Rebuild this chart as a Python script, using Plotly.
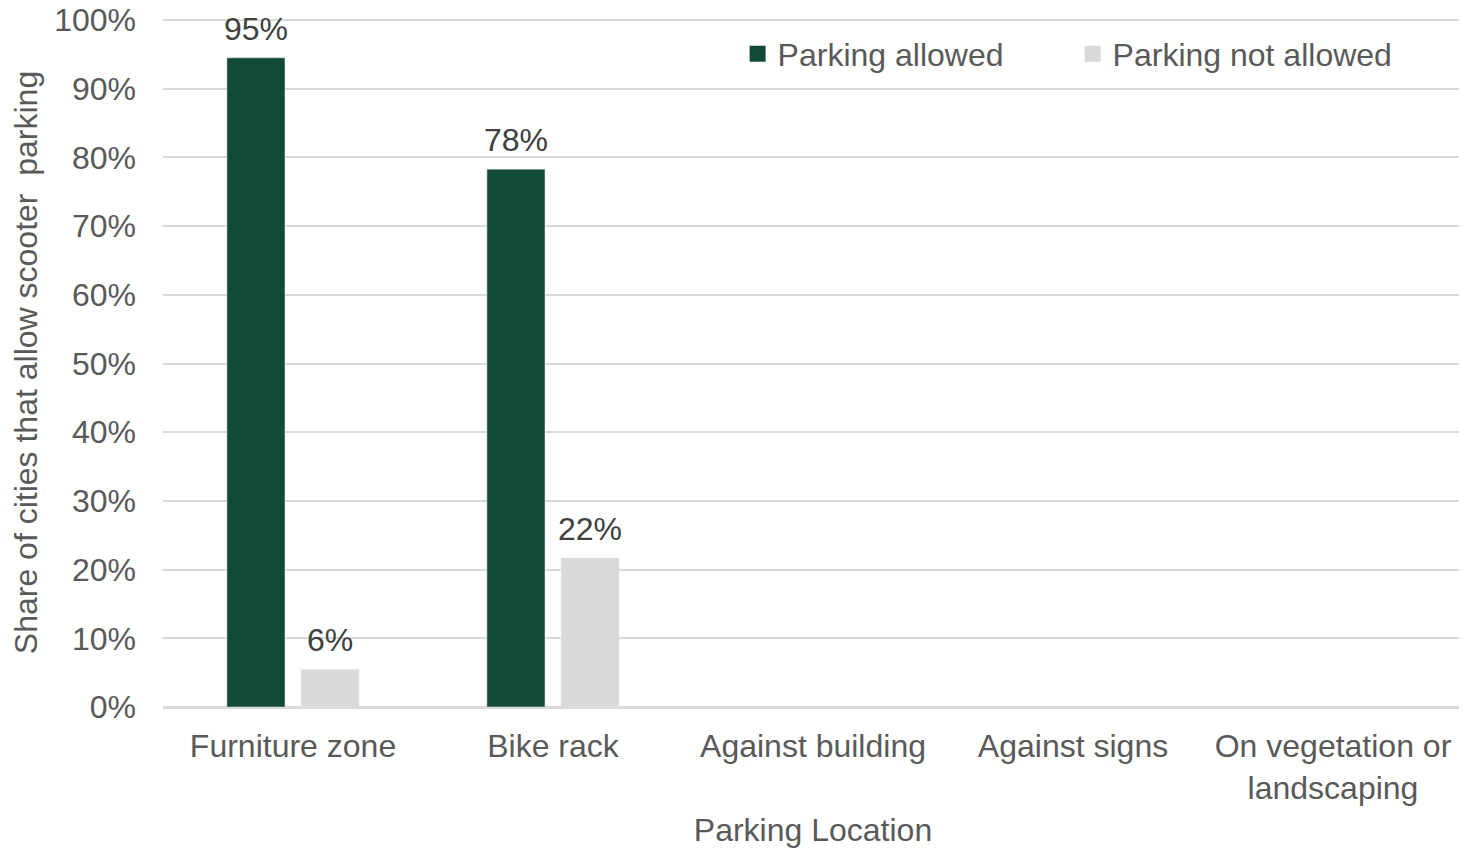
import plotly.graph_objects as go

locations = ["Furniture zone", "Bike rack", "Against building", "Against signs",
             "On vegetation or<br>landscaping"]
allowed = [0.945, 0.783, None, None, None]
not_allowed = [0.055, 0.217, None, None, None]
allowed_labels = ["95%", "78%", "", "", ""]
not_allowed_labels = ["6%", "22%", "", "", ""]

FONT = "Liberation Sans, Arial, sans-serif"
GREEN = "#134a35"
GREY = "#d9d9d9"
SIZE = 32

fig = go.Figure()
series = [("Parking allowed", allowed, allowed_labels, GREEN, -37),
          ("Parking not allowed", not_allowed, not_allowed_labels, GREY, 37)]
for name, vals, labels, color, shift in series:
    fig.add_trace(go.Bar(x=locations, y=vals, name=name, marker_color=color,
                         showlegend=False))
    # legend entry with a larger square swatch
    fig.add_trace(go.Scatter(x=[None], y=[None], mode="markers", name=name,
                             marker=dict(symbol="square", size=17, color=color)))
    for loc, v, lab in zip(locations, vals, labels):
        if v is None:
            continue
        fig.add_annotation(x=loc, y=v, text=lab, showarrow=False, xshift=shift,
                           yanchor="bottom", yshift=9,
                           font=dict(size=SIZE, color="#404040", family=FONT))

fig.update_layout(
    width=1467, height=849,
    margin=dict(l=155, r=12, t=10, b=150, autoexpand=False),
    paper_bgcolor="white", plot_bgcolor="white",
    font=dict(family=FONT, size=SIZE, color="#595959"),
    barmode="group", bargap=0.43, bargroupgap=0.216,
    showlegend=True,
    legend=dict(orientation="h", x=0.442, xanchor="left", y=0.948, yanchor="middle",
                font=dict(size=SIZE, color="#595959"), entrywidth=290,
                bgcolor="rgba(0,0,0,0)"),
)
fig.update_xaxes(
    title=dict(text="Parking Location", standoff=14, font=dict(size=SIZE)),
    showline=True, linecolor=GREY, linewidth=2, automargin=False,
    ticks="", ticklabelstandoff=10, tickfont=dict(size=SIZE),
)
fig.update_yaxes(
    title=dict(text="Share of cities that allow scooter\u00a0 parking", standoff=17,
               font=dict(size=SIZE)),
    range=[0, 1.003], dtick=0.1, tickformat=".0%", automargin=False,
    ticklabeloverflow="allow",
    showgrid=True, gridcolor=GREY, gridwidth=2,
    zeroline=True, zerolinecolor=GREY, zerolinewidth=2,
    ticks="", ticklabelstandoff=26, tickfont=dict(size=SIZE),
)

fig.write_html("out.html")
